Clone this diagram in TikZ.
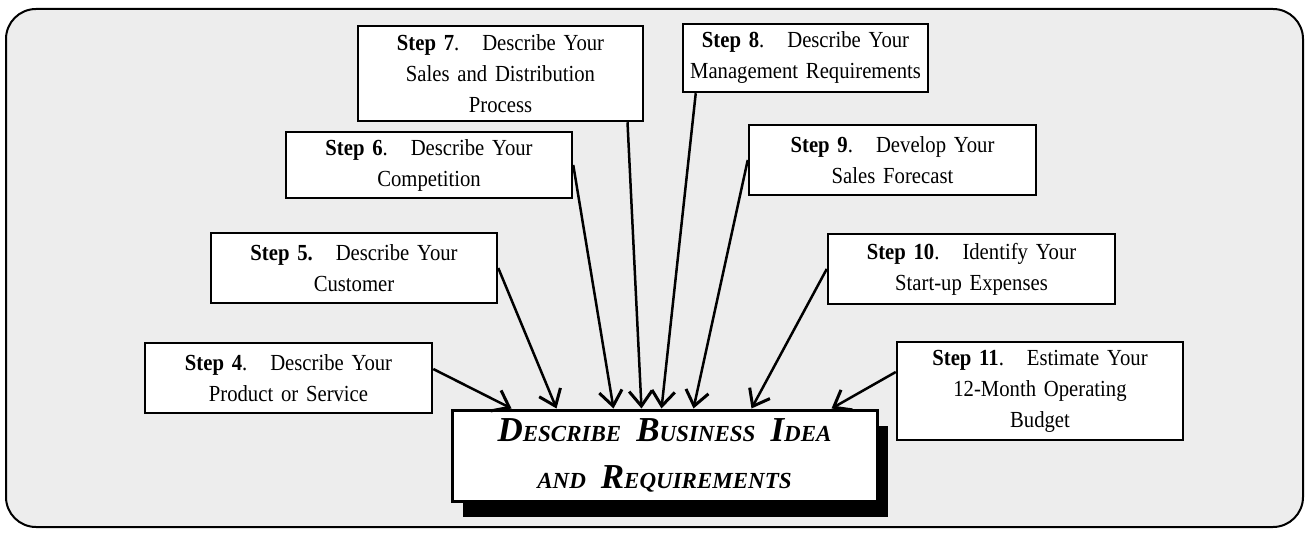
\documentclass[tikz,border=0pt]{standalone}
\usepackage{fontspec}
\setmainfont{Liberation Serif}[FakeStretch=0.9, WordSpace=1.5]
\newfontfamily\ideafont{Liberation Serif}
\usetikzlibrary{arrows.meta,shadows}

\definecolor{panelgray}{HTML}{EDEDED}

\tikzset{
	stepbox/.style={draw, line width=2.5pt, fill=white, align=center, inner sep=0pt,
		font=\fontsize{23}{31}\selectfont},
	ideabox/.style={draw, line width=3pt, fill=white, align=center, inner sep=0pt,
		minimum width=425pt, minimum height=91pt,
		font=\ideafont\fontsize{35}{47}\selectfont\bfseries\itshape,
		drop shadow={shadow xshift=11pt, shadow yshift=-16pt, fill=black, opacity=1}},
	feed/.style={line width=2.5pt, -{Straight Barb[length=15pt,width=23pt,line width=3pt]}},
}
\newcommand{\stepno}[1]{\textbf{Step #1}}
\newcommand{\capsc}[2]{#1{\fontsize{23}{47}\selectfont #2}}
\newcommand{\scgap}{\hspace{15pt}}

\begin{document}
\begin{tikzpicture}[x=1pt, y=-1pt]
	\useasboundingbox (0,0) rectangle (1309,534);
	% Marco
		\draw[line width=2pt, fill=panelgray, rounded corners=30pt] (6,9) rectangle (1303,527);

	% Pasos
		\node[stepbox, minimum width=287pt, minimum height=70pt] (s4) at (288.5,378) {\stepno{4}.\quad Describe Your\\Product or Service};
		\node[stepbox, minimum width=286pt, minimum height=70pt] (s5) at (354,268) {\stepno{5.}\quad Describe Your\\Customer};
		\node[stepbox, minimum width=286pt, minimum height=66pt] (s6) at (429,165) {\stepno{6}.\quad Describe Your\\Competition};
		\node[stepbox, minimum width=285pt, minimum height=95pt] (s7) at (500.5,73.5) {\stepno{7}.\quad Describe Your\\Sales and Distribution\\Process};
		\node[stepbox, minimum width=245pt, minimum height=68pt] (s8) at (805.5,58) {\stepno{8}.\quad Describe Your\\Management Requirements};
		\node[stepbox, minimum width=287pt, minimum height=70pt] (s9) at (892.5,160) {\stepno{9}.\quad Develop Your\\Sales Forecast};
		\node[stepbox, minimum width=287pt, minimum height=70pt] (s10) at (971.5,269) {\stepno{10}.\quad Identify Your\\Start-up Expenses};
		\node[stepbox, minimum width=286pt, minimum height=98pt] (s11) at (1040,391) {\stepno{11}.\quad Estimate Your\\12-Month Operating\\Budget};

	% Idea central
		\node[ideabox] (idea) at (664.5,455.5)
			{\capsc{D}{ESCRIBE}\scgap\capsc{B}{USINESS}\scgap\capsc{I}{DEA}\\{\fontsize{23}{47}\selectfont AND}\scgap\capsc{R}{EQUIREMENTS}};

	% Flechas
		\draw[feed] ([yshift=9pt]s4.east) -- ([xshift=61pt]idea.north west);
		\draw[feed] (s5.east) -- ([xshift=106pt]idea.north west);
		\draw[feed] (s6.east) -- ([xshift=163pt]idea.north west);
		\draw[feed] ([xshift=127pt]s7.south) -- ([xshift=191pt]idea.north west);
		\draw[feed] ([xshift=14pt]s8.south west) -- ([xshift=211pt]idea.north west);
		\draw[feed] (s9.west) -- ([xshift=243pt]idea.north west);
		\draw[feed] (s10.west) -- ([xshift=301pt]idea.north west);
		\draw[feed] ([yshift=19pt]s11.west) -- ([xshift=381pt]idea.north west);
\end{tikzpicture}
\end{document}
